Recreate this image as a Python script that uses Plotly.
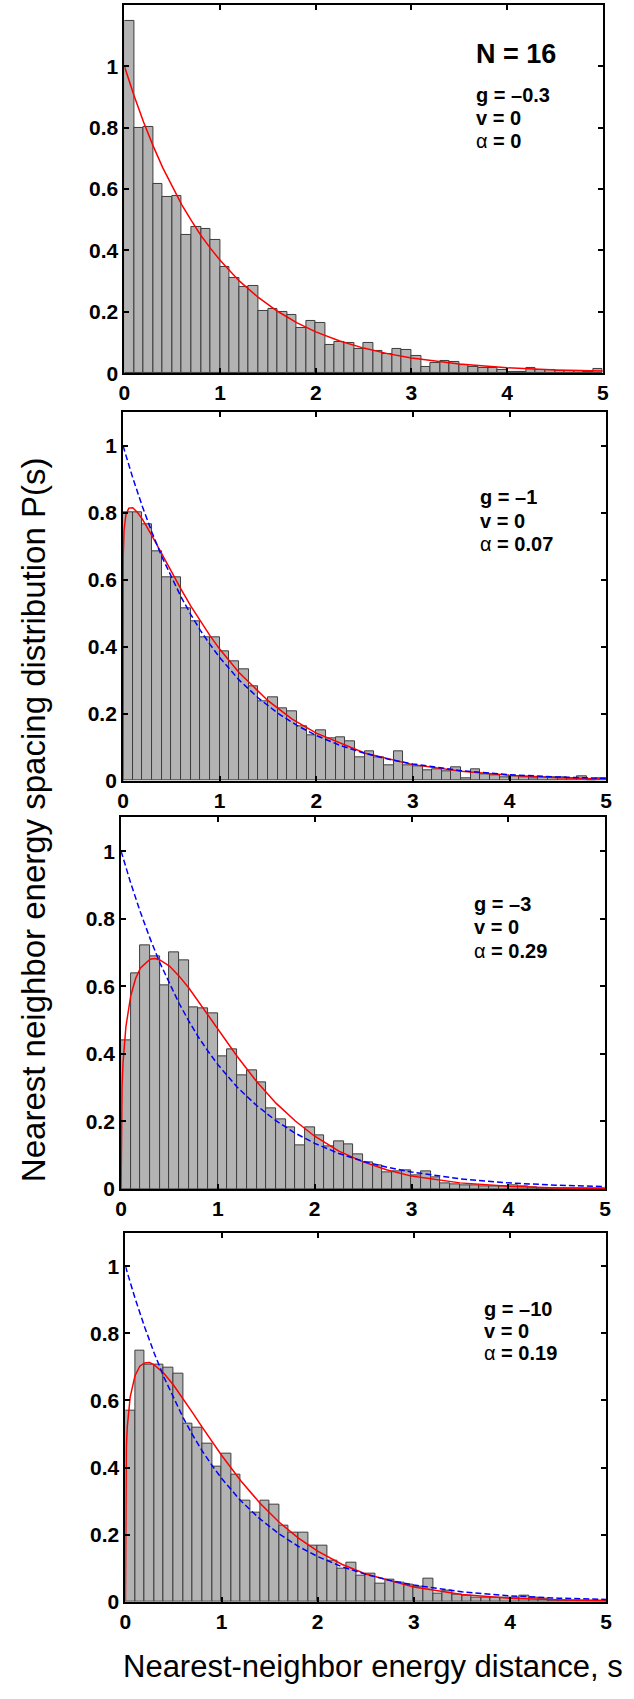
import numpy as np
import plotly.graph_objects as go

W, H = 634, 1699

# ---------------- data ----------------
bin_centers = np.round(np.arange(50) * 0.1 + 0.05, 2)

hist_g03 = [1.147, 0.799, 0.803, 0.618, 0.573, 0.577, 0.451, 0.477, 0.470, 0.434,
            0.345, 0.312, 0.282, 0.284, 0.203, 0.211, 0.201, 0.190, 0.147, 0.171,
            0.165, 0.091, 0.103, 0.100, 0.080, 0.099, 0.073, 0.062, 0.080, 0.075,
            0.057, 0.021, 0.035, 0.040, 0.037, 0.026, 0.022, 0.018, 0.018, 0.011,
            0.005, 0.005, 0.016, 0.010, 0.010, 0.008, 0.008, 0.008, 0.005, 0.013]
hist_g1 = [0.800, 0.800, 0.765, 0.685, 0.606, 0.606, 0.516, 0.477, 0.429, 0.429,
           0.387, 0.357, 0.333, 0.283, 0.238, 0.248, 0.216, 0.206, 0.163, 0.137,
           0.151, 0.126, 0.129, 0.117, 0.069, 0.089, 0.069, 0.046, 0.088, 0.046,
           0.043, 0.032, 0.034, 0.029, 0.039, 0.007, 0.035, 0.019, 0.017, 0.011,
           0.013, 0.009, 0.007, 0.009, 0.009, 0.009, 0.007, 0.012, 0.002, 0.007]
hist_g3 = [0.439, 0.637, 0.720, 0.688, 0.602, 0.700, 0.678, 0.537, 0.535, 0.521,
           0.393, 0.413, 0.336, 0.352, 0.316, 0.238, 0.206, 0.183, 0.128, 0.181,
           0.159, 0.127, 0.142, 0.133, 0.101, 0.079, 0.071, 0.049, 0.051, 0.056,
           0.039, 0.051, 0.034, 0.018, 0.015, 0.012, 0.012, 0.009, 0.008, 0.008,
           0.012, 0.008, 0.005, 0.002, 0.002, 0.002, 0.002, 0.002, 0.002, 0.002]
hist_g10 = [0.570, 0.748, 0.708, 0.707, 0.699, 0.679, 0.531, 0.519, 0.471, 0.404,
            0.442, 0.380, 0.301, 0.266, 0.303, 0.291, 0.227, 0.207, 0.207, 0.168,
            0.166, 0.122, 0.100, 0.118, 0.079, 0.084, 0.053, 0.066, 0.056, 0.050,
            0.046, 0.068, 0.024, 0.034, 0.022, 0.019, 0.014, 0.014, 0.012, 0.014,
            0.012, 0.017, 0.012, 0.010, 0.005, 0.003, 0.003, 0.003, 0.003, 0.003]

# Poisson reference curve
poisson_s = [0, 0.1, 0.2, 0.3, 0.4, 0.5, 0.6, 0.7, 0.8, 0.9, 1.0, 1.2, 1.4, 1.6, 1.8,
             2.0, 2.25, 2.5, 2.75, 3.0, 3.5, 4.0, 4.5, 5.0]
poisson_p = [1.00, 0.905, 0.819, 0.741, 0.670, 0.607, 0.549, 0.497, 0.449, 0.407, 0.368,
             0.301, 0.247, 0.202, 0.165, 0.135, 0.105, 0.082, 0.064, 0.050, 0.030,
             0.018, 0.011, 0.007]

# fitted curves (red)
fit_g1_s = [0, 0.0005, 0.002, 0.01, 0.03, 0.06, 0.1, 0.15, 0.2, 0.3, 0.4, 0.5, 0.6, 0.7,
            0.8, 0.9, 1.0, 1.2, 1.5, 1.75, 2.0, 2.5, 3.0, 3.5, 4.0, 4.5, 5.0]
fit_g1_p = [0, 0.61, 0.672, 0.748, 0.795, 0.814, 0.815, 0.801, 0.781, 0.731, 0.677, 0.624,
            0.572, 0.522, 0.476, 0.433, 0.393, 0.323, 0.239, 0.184, 0.142, 0.083, 0.048,
            0.028, 0.016, 0.009, 0.005]
fit_g3_s = [0, 0.002, 0.01, 0.02, 0.05, 0.1, 0.15, 0.2, 0.3, 0.35, 0.4, 0.5, 0.6, 0.7,
            0.8, 0.9, 1.0, 1.2, 1.4, 1.6, 1.8, 2.0, 2.25, 2.5, 2.75, 3.0, 3.5, 4.0, 4.5, 5.0]
fit_g3_p = [0, 0.193, 0.306, 0.373, 0.481, 0.572, 0.623, 0.654, 0.680, 0.682, 0.678, 0.660,
            0.630, 0.595, 0.555, 0.514, 0.472, 0.392, 0.318, 0.254, 0.201, 0.156, 0.112,
            0.080, 0.056, 0.038, 0.018, 0.008, 0.003, 0.001]
fit_g10_s = [0, 0.002, 0.01, 0.02, 0.05, 0.1, 0.15, 0.2, 0.25, 0.3, 0.4, 0.5, 0.6, 0.7,
             0.8, 0.9, 1.0, 1.2, 1.4, 1.6, 1.8, 2.0, 2.25, 2.5, 3.0, 3.5, 4.0, 4.5, 5.0]
fit_g10_p = [0, 0.341, 0.461, 0.523, 0.611, 0.674, 0.702, 0.712, 0.713, 0.706, 0.681, 0.646,
             0.606, 0.563, 0.520, 0.478, 0.437, 0.361, 0.294, 0.237, 0.190, 0.151, 0.112,
             0.083, 0.044, 0.022, 0.011, 0.006, 0.003]

x_ticks = [0, 1, 2, 3, 4, 5]
x_ticktext = ["0", "1", "2", "3", "4", "5"]
y_ticks = [0, 0.2, 0.4, 0.6, 0.8, 1.0]
y_ticktext = ["0", "0.2", "0.4", "0.6", "0.8", "1"]

panel_labels = [
    ["g = –0.3", "v = 0", "α = 0"],
    ["g = –1", "v = 0", "α = 0.07"],
    ["g = –3", "v = 0", "α = 0.29"],
    ["g = –10", "v = 0", "α = 0.19"],
]

# ---------------- layout geometry (pixels) ----------------
panel_px = [  # left, right, top, bottom
    (120.7, 608.3, 5.0, 375.7),
    (119.3, 611.7, 415.0, 785.8),
    (117.3, 610.7, 822.7, 1196.7),
    (121.7, 611.7, 1240.7, 1612.3),
]
y_tops = [1.2, 1.1, 1.1, 1.1]
label_pos = [  # left x, first row centre y (pixels), row step
    (477, 96, 23),
    (481, 500, 24),
    (475, 910, 23.5),
    (485, 1318, 22),
]

FONT = "Liberation Sans, Arial, Helvetica, sans-serif"
BAR_FILL = "#b3b3b3"
BAR_EDGE = "#3c3c3c"


def pxx(x):
    return x / W


def pxy(y):
    return 1 - y / H


hists = [hist_g03, hist_g1, hist_g3, hist_g10]
fits = [(poisson_s, poisson_p), (fit_g1_s, fit_g1_p), (fit_g3_s, fit_g3_p), (fit_g10_s, fit_g10_p)]

fig = go.Figure()
layout = {}
annotations = []

for i in range(4):
    n = "" if i == 0 else str(i + 1)
    xa, ya = "x" + n, "y" + n
    fig.add_trace(go.Bar(
        x=bin_centers, y=hists[i], width=0.1, xaxis=xa, yaxis=ya,
        marker=dict(color=BAR_FILL, line=dict(color=BAR_EDGE, width=1)),
        showlegend=False, hoverinfo="skip"))
    fs, fp = fits[i]
    fig.add_trace(go.Scatter(
        x=fs, y=fp, mode="lines", xaxis=xa, yaxis=ya,
        line=dict(color="#ff0000", width=1.5), showlegend=False, hoverinfo="skip"))
    if i > 0:
        fig.add_trace(go.Scatter(
            x=poisson_s, y=poisson_p, mode="lines", xaxis=xa, yaxis=ya,
            line=dict(color="#0000ff", width=1.5, dash="6px,3px"),
            showlegend=False, hoverinfo="skip"))

    l, r, t, b = panel_px[i]
    axis_common = dict(
        showline=True, linecolor="black", linewidth=2, mirror="ticks",
        ticks="inside", ticklen=5, tickwidth=1.5, tickcolor="black",
        showgrid=False, zeroline=False,
        tickfont=dict(family=FONT, size=21, color="black", weight="bold"),
    )
    layout["xaxis" + n] = dict(
        axis_common, domain=[pxx(l), pxx(r)], anchor=ya, range=[0, 5],
        tickvals=x_ticks, ticktext=x_ticktext)
    layout["yaxis" + n] = dict(
        axis_common, domain=[pxy(b), pxy(t)], anchor=xa, range=[0, y_tops[i]],
        tickvals=y_ticks, ticktext=y_ticktext)

    lx, ly, step = label_pos[i]
    for k, txt in enumerate(panel_labels[i]):
        if txt.startswith("α"):
            html = "α<b>" + txt[1:] + "</b>"
        else:
            html = "<b>" + txt + "</b>"
        annotations.append(dict(
            x=pxx(lx), y=pxy(ly + k * step), xref="paper", yref="paper",
            xanchor="left", yanchor="middle", showarrow=False, text=html,
            font=dict(family=FONT, size=20, color="black")))

annotations.append(dict(
    x=pxx(477), y=pxy(54), xref="paper", yref="paper", xanchor="left",
    yanchor="middle", showarrow=False, text="<b>N = 16</b>",
    font=dict(family=FONT, size=27, color="black")))
annotations.append(dict(
    x=pxx(28), y=pxy(825), xref="paper", yref="paper", xanchor="center",
    yanchor="middle", showarrow=False, textangle=-90,
    text="Nearest neighbor energy spacing distribution P(s)",
    font=dict(family=FONT, size=33, color="black")))
annotations.append(dict(
    x=pxx(374), y=pxy(1677), xref="paper", yref="paper", xanchor="center",
    yanchor="middle", showarrow=False,
    text="Nearest-neighbor energy distance, s",
    font=dict(family=FONT, size=31, color="black")))

fig.update_layout(
    width=W, height=H, margin=dict(l=0, r=0, t=0, b=0),
    paper_bgcolor="white", plot_bgcolor="white",
    bargap=0, barmode="overlay", annotations=annotations, **layout)

fig.write_html("out.html")
